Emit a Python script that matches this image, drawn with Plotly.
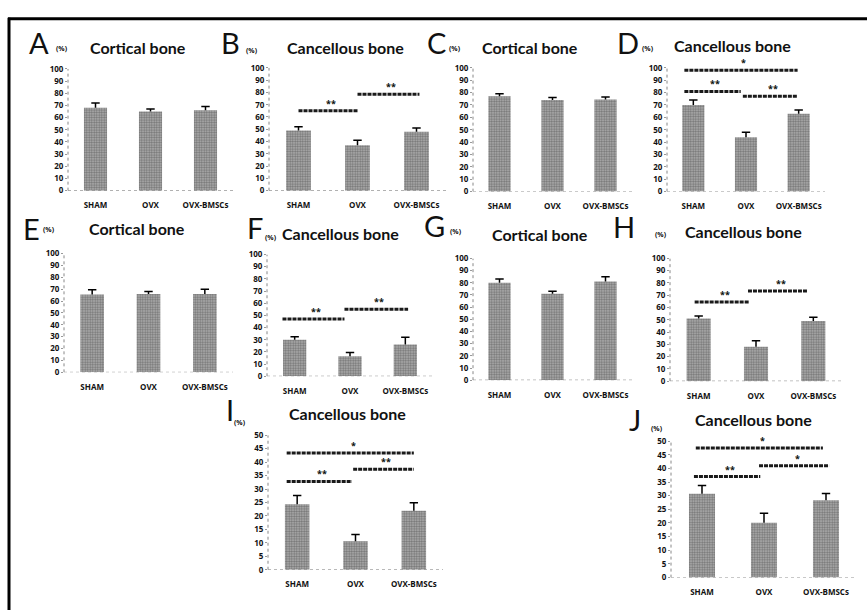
import plotly.graph_objects as go

W, H = 867, 615

categories = ["SHAM", "OVX", "OVX-BMSCs"]
cat_pos = [0, 1, 2]

A_means = [68, 65, 66];      A_err = [4, 2, 3]
B_means = [49, 37, 48];      B_err = [3, 4, 3]
C_means = [77, 74, 74.5];    C_err = [2, 2, 2]
D_means = [70, 44, 63];      D_err = [4, 4, 3]
E_means = [65.5, 66, 66];    E_err = [4, 2, 4]
F_means = [30, 16.5, 26];    F_err = [2.5, 3, 6]
G_means = [80, 71, 81];      G_err = [3, 2, 4]
H_means = [51, 28, 49];      H_err = [2, 5, 3]
I_means = [24.3, 10.6, 21.9]; I_err = [3.3, 2.5, 3]
J_means = [30.7, 20.1, 28.3]; J_err = [3, 3.5, 2.5]

# significance brackets: (from category pos, to category pos, level, label)
B_sig = [(0, 1, 65, "**"), (1, 2.05, 78.5, "**")]
D_sig = [(-0.17, 1.98, 98, "*"), (-0.17, 0.9, 81, "**"), (0.94, 1.98, 77, "**")]
F_sig = [(-0.22, 0.9, 47, "**"), (0.9, 2.05, 55, "**")]
H_sig = [(-0.07, 0.88, 64.5, "**"), (0.86, 1.9, 73.5, "**")]
I_sig = [(-0.18, 2.0, 43.4, "*"), (-0.18, 0.94, 32.8, "**"), (0.96, 2.0, 37.3, "**")]
J_sig = [(-0.1, 1.95, 47.5, "*"), (-0.13, 0.94, 37, "**"), (0.92, 2.05, 41, "*")]

panel_letters = ["A", "B", "C", "D", "E", "F", "G", "H", "I", "J"]
panel_titles = ["Cortical bone", "Cancellous bone", "Cortical bone", "Cancellous bone",
                "Cortical bone", "Cancellous bone", "Cortical bone", "Cancellous bone",
                "Cancellous bone", "Cancellous bone"]
ymaxes = [100] * 8 + [50, 50]
dticks = [10] * 8 + [5, 5]

means = [A_means, B_means, C_means, D_means, E_means, F_means, G_means, H_means, I_means, J_means]
errs = [A_err, B_err, C_err, D_err, E_err, F_err, G_err, H_err, I_err, J_err]
sigs = [[], B_sig, [], D_sig, [], F_sig, [], H_sig, I_sig, J_sig]

# layout geometry in pixels: (x0, x1, y_bottom, y_top)
geom = [
    (68, 233, 188, 64), (269, 446, 188, 63), (473, 632, 189, 63), (667, 825, 189, 63),
    (64, 233, 373, 252), (267, 433, 377, 253), (473, 632, 381, 257), (670, 842, 382, 257),
    (268, 443, 574, 437), (671, 857, 582, 443),
]
title_pos = [(138, 42), (345, 42), (530, 42), (732, 40), (137, 226), (340, 231),
             (540, 232), (743, 229), (347, 414), (753, 421)]
letter_pos = [(39, 37), (231, 37), (436, 37), (628, 37), (31, 227), (255, 226),
              (434, 223), (624, 225), (230, 411), (635, 421)]
pct_pos = [(62, 43), (252, 45), (455, 43), (648, 43), (49, 228), (271, 236),
           (456, 230), (661, 233), (240, 424), (657, 430)]

def px(x):
    return x / W

def py(y):
    return 1 - y / H

fig = go.Figure()
layout = dict(width=W, height=H, margin=dict(l=0, r=0, t=0, b=0),
              paper_bgcolor="white", plot_bgcolor="white", showlegend=False,
              font=dict(family="Lato", color="black"))
shapes = []
annotations = []
tickfont = dict(size=8, family="Open Sans", weight=700, color="#111")

for i in range(10):
    n = "" if i == 0 else str(i + 1)
    xa, ya = "x" + n, "y" + n
    x0, x1, yb, yt = geom[i]
    fig.add_trace(go.Bar(
        x=cat_pos, y=means[i], xaxis=xa, yaxis=ya, width=0.42,
        marker=dict(color="#b0b0b0", line=dict(width=0),
                    pattern=dict(shape=".", fgcolor="#3a3a3a", bgcolor="#b0b0b0",
                                 size=2.5, solidity=0.5)),
        error_y=dict(type="data", symmetric=False, array=errs[i],
                     arrayminus=[0] * 3, color="black", thickness=1.5, width=0),
        hoverinfo="skip",
    ))
    # top caps of the error bars
    fig.add_trace(go.Scatter(
        x=cat_pos, y=[m + e for m, e in zip(means[i], errs[i])], xaxis=xa, yaxis=ya,
        mode="markers", marker=dict(symbol="line-ew", size=6,
                                    line=dict(color="black", width=1.5)),
        hoverinfo="skip",
    ))
    layout["xaxis" + n] = dict(
        domain=[px(x0), px(x1)], anchor=ya, range=[-0.5, 2.5],
        tickvals=cat_pos, ticktext=categories, showgrid=False, zeroline=False,
        showline=False, ticks="outside", ticklen=7, tickcolor="rgba(0,0,0,0)",
        tickfont=tickfont, fixedrange=True,
    )
    layout["yaxis" + n] = dict(
        domain=[py(yb), py(yt)], anchor=xa, range=[0, ymaxes[i]],
        dtick=dticks[i], tick0=0, showgrid=False, zeroline=False, showline=False,
        ticks="outside", ticklen=2, tickcolor="#999",
        tickfont=tickfont, fixedrange=True,
    )
    # dotted axis lines
    shapes.append(dict(type="line", xref=xa + " domain", yref=ya, x0=0, x1=0,
                       y0=0, y1=ymaxes[i], line=dict(color="#888", width=1, dash="dot")))
    shapes.append(dict(type="line", xref=xa + " domain", yref=ya, x0=0, x1=1,
                       y0=0, y1=0, line=dict(color="#888", width=1, dash="dot")))
    # significance brackets
    for (s0, s1, lvl, lab) in sigs[i]:
        shapes.append(dict(type="line", xref=xa, yref=ya, x0=s0, x1=s1, y0=lvl, y1=lvl,
                           line=dict(color="#1a1a1a", width=3, dash="4px,1px")))
        annotations.append(dict(x=(s0 + s1) / 2 + 0.05, y=lvl, xref=xa, yref=ya,
                                text="<b>" + lab + "</b>", showarrow=False,
                                yanchor="bottom", yshift=1, height=10,
                                font=dict(size=9, family="Open Sans", color="#111")))
    tx, ty = title_pos[i]
    annotations.append(dict(x=px(tx), y=py(ty), xref="paper", yref="paper",
                            text="<b>" + panel_titles[i] + "</b>", showarrow=False,
                            xanchor="center", yanchor="middle", height=16,
                            font=dict(size=16, family="Lato", color="#111")))
    lx, ly = letter_pos[i]
    annotations.append(dict(x=px(lx), y=py(ly), xref="paper", yref="paper",
                            text=panel_letters[i], showarrow=False,
                            xanchor="center", yanchor="middle",
                            font=dict(size=29, family="Lato", color="#111")))
    cx, cy = pct_pos[i]
    annotations.append(dict(x=px(cx), y=py(cy), xref="paper", yref="paper",
                            text="<b>(%)</b>", showarrow=False,
                            xanchor="center", yanchor="middle",
                            font=dict(size=7, family="Open Sans", color="#111")))

# figure border (left and top)
shapes.append(dict(type="line", xref="paper", yref="paper", x0=px(9), x1=px(9),
                   y0=py(12), y1=0, line=dict(color="black", width=3)))
shapes.append(dict(type="line", xref="paper", yref="paper", x0=px(8), x1=1,
                   y0=py(13), y1=py(13), line=dict(color="black", width=3)))

layout["shapes"] = shapes
layout["annotations"] = annotations
fig.update_layout(**layout)
fig.write_html("out.html", config={"displayModeBar": False},
               post_script="document.body.style.margin='0px';document.body.style.overflow='hidden';")
